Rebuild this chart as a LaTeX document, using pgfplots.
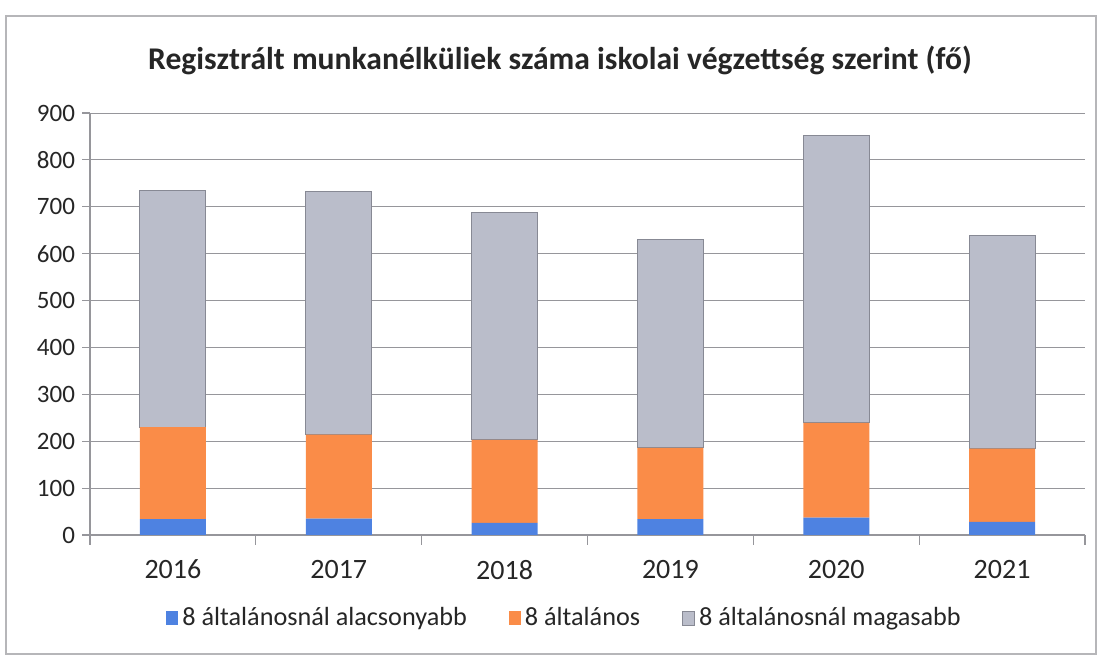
\documentclass[border=0pt]{standalone}
\usepackage{pgfplots}
\pgfplotsset{compat=1.18}
\usepackage{fontspec}
\setmainfont{Carlito}
\definecolor{cblue}{RGB}{78,130,225}
\definecolor{corange}{RGB}{250,140,72}
\definecolor{cgray}{RGB}{186,189,202}
\definecolor{cgrayedge}{RGB}{135,137,148}
\definecolor{cgrid}{RGB}{150,150,155}
\pgfplotstableread{
x low mid high
0 34 196 504
1 35 179 519
2 26 177 484
3 34 152 444
4 37 202 613
5 28 156 454
}\data
\begin{document}
\begin{tikzpicture}
\path[use as bounding box] (0,0) rectangle (551.5pt,329pt);
\draw[cgrid!70, line width=0.6pt] (3pt,2pt) rectangle (548pt,321pt);
\node[font=\bfseries\fontsize{15.8}{18}\selectfont, text=black!85] at (280pt,299pt) {Regisztrált munkanélküliek száma iskolai végzettség szerint (fő)};
\begin{axis}[
  at={(45pt,61.5pt)}, anchor=south west,
  scale only axis, width=497.5pt, height=211pt,
  ybar stacked, bar width=33pt,
  xmin=-0.5, xmax=5.5, ymin=0, ymax=900,
  xtick={0,...,5}, xticklabels={2016,2017,2018,2019,2020,2021},
  minor xtick={-0.5,0.5,...,5.5},
  ytick={0,100,...,900},
  ymajorgrids, grid style={cgrid, line width=0.5pt},
  axis x line*=bottom, axis y line*=left,
  axis line style={cgrid, line width=0.6pt},
  tick align=outside,
  x tick style={draw=none},
  minor x tick style={draw=cgrid, line width=0.6pt},
  minor tick length=5pt,
  y tick style={draw=cgrid, line width=0.6pt},
  major tick length=4pt,
  tick label style={font=\fontsize{12.5}{14}\selectfont, text=black!85},
  xticklabel style={yshift=-5pt, font=\fontsize{14}{16}\selectfont},
  /pgf/number format/assume math mode=true,
  legend style={at={(0.478,-0.197)}, anchor=center, draw=none, fill=none,
    legend columns=3, font=\fontsize{13.1}{15}\selectfont, text=black!85,
    /tikz/every even column/.append style={column sep=19pt}},
  legend image code/.code={\fill[#1] (0pt,-3.5pt) rectangle (6pt,3.5pt);},
]
\addplot[fill=cblue, draw=none] table[x=x,y=low]{\data};
\addplot[fill=corange, draw=none] table[x=x,y=mid]{\data};
\addplot[fill=cgray, draw=cgrayedge, line width=0.5pt] table[x=x,y=high]{\data};
\legend{8 általánosnál alacsonyabb, 8 általános, 8 általánosnál magasabb}
\end{axis}
\end{tikzpicture}
\end{document}
